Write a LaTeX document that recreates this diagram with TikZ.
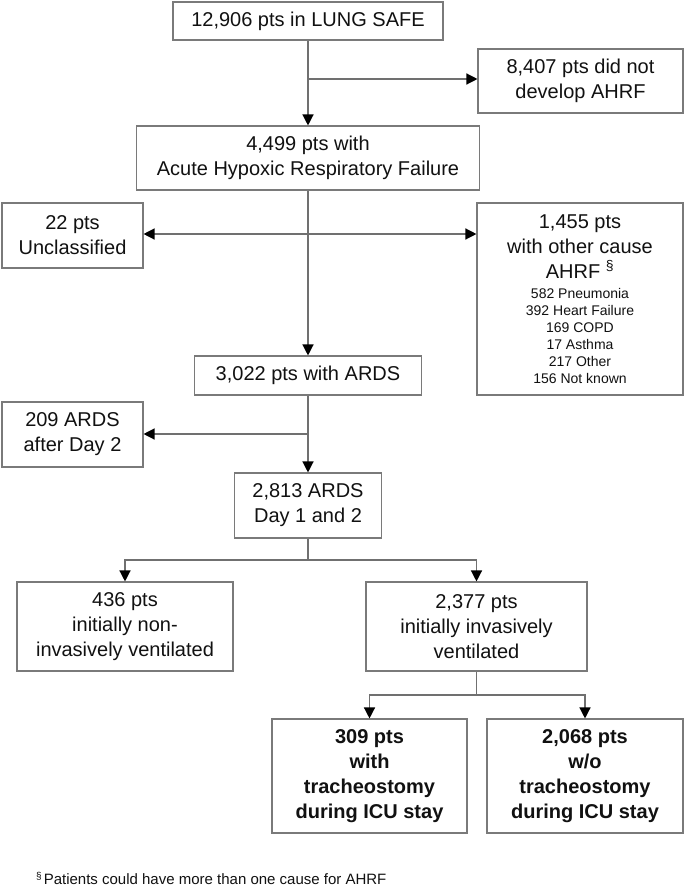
\documentclass[tikz,border=0pt]{standalone}
\usepackage{fontspec}
\setmainfont{Liberation Sans}
\usetikzlibrary{arrows.meta,calc}
\definecolor{boxgray}{HTML}{7A7A7A}
\definecolor{linegray}{HTML}{707070}
\definecolor{txt}{HTML}{111111}
\begin{document}
\begin{tikzpicture}[x=1pt,y=-1pt,
  box/.style={draw=boxgray,line width=1.1pt,align=center,inner sep=0pt,
    font=\fontsize{20}{25}\selectfont,text=txt},
  boldbox/.style={box,font=\bfseries\fontsize{20}{25}\selectfont},
  conn/.style={draw=linegray,line width=1.3pt},
  arr/.style={conn,-{Triangle[length=11pt,width=11pt,color=black]}}]
\useasboundingbox[fill=white] (0,0) rectangle (685,891);

\node[box,minimum width=270pt,minimum height=38pt] (b1) at (308,21) {12,906 pts in LUNG SAFE};
\node[box,minimum width=205pt,minimum height=64pt] (b2) at (580.5,81) {8,407 pts did not\\develop AHRF};
\node[box,minimum width=343pt,minimum height=64pt] (b3) at (308,158) {4,499 pts with\\Acute Hypoxic Respiratory Failure};
\node[box,minimum width=141pt,minimum height=65pt] (b4) at (72.5,235.5) {22 pts\\Unclassified};
\node[box,minimum width=206pt,minimum height=192pt] (b5) at (580,299)
  {1,455 pts\\with other cause\\AHRF \textsuperscript{§}\\[-5pt]%
   \parbox[t]{200pt}{\centering\fontsize{14}{17}\selectfont 582 Pneumonia\\392 Heart Failure\\169 COPD\\17 Asthma\\217 Other\\156 Not known}};
\node[box,minimum width=227pt,minimum height=39pt] (b6) at (308,375.5) {3,022 pts with ARDS};
\node[box,minimum width=141pt,minimum height=65pt] (b7) at (72.5,434.5) {209 ARDS\\after Day 2};
\node[box,minimum width=147pt,minimum height=65pt] (b8) at (308,505.5) {2,813 ARDS\\Day 1 and 2};
\node[box,minimum width=216pt,minimum height=89pt] (b9) at (125,626.5) {436 pts\\initially non-\\invasively ventilated};
\node[box,minimum width=221pt,minimum height=89pt] (b10) at (476.5,626.5) {2,377 pts\\initially invasively\\ventilated};
\node[boldbox,minimum width=195pt,minimum height=114pt] (b11) at (369.5,776) {309 pts\\with\\tracheostomy\\during ICU stay};
\node[boldbox,minimum width=196pt,minimum height=114pt] (b12) at (585,776) {2,068 pts\\w/o\\tracheostomy\\during ICU stay};

\node[anchor=west,inner sep=0pt,text=txt,font=\fontsize{15}{18}\selectfont] (fn) at (36,878)
  {\raisebox{5pt}{\fontsize{10}{10}\selectfont §}\hspace{2pt}Patients could have more than one cause for AHRF};

\coordinate (j1) at (308,79);
\coordinate (j2) at (308,234);
\coordinate (j3) at (308,434);
\coordinate (j4) at (308,560);
\coordinate (j5) at (476.5,695);

\draw[arr] (b1.south) -- (b3.north);
\draw[arr] (j1) -- (b2.west |- j1);
\draw[arr] (b3.south) -- (b6.north);
\draw[arr] (j2) -- (b4.east |- j2);
\draw[arr] (j2) -- (b5.west |- j2);
\draw[arr] (b6.south) -- (b8.north);
\draw[arr] (j3) -- (b7.east |- j3);
\draw[conn] (b8.south) -- (j4);
\draw[arr] (j4) -| (b9.north);
\draw[arr] (j4) -| (b10.north);
\draw[conn] (b10.south) -- (j5);
\draw[arr] (j5) -| (b11.north);
\draw[arr] (j5) -| (b12.north);
\end{tikzpicture}
\end{document}
